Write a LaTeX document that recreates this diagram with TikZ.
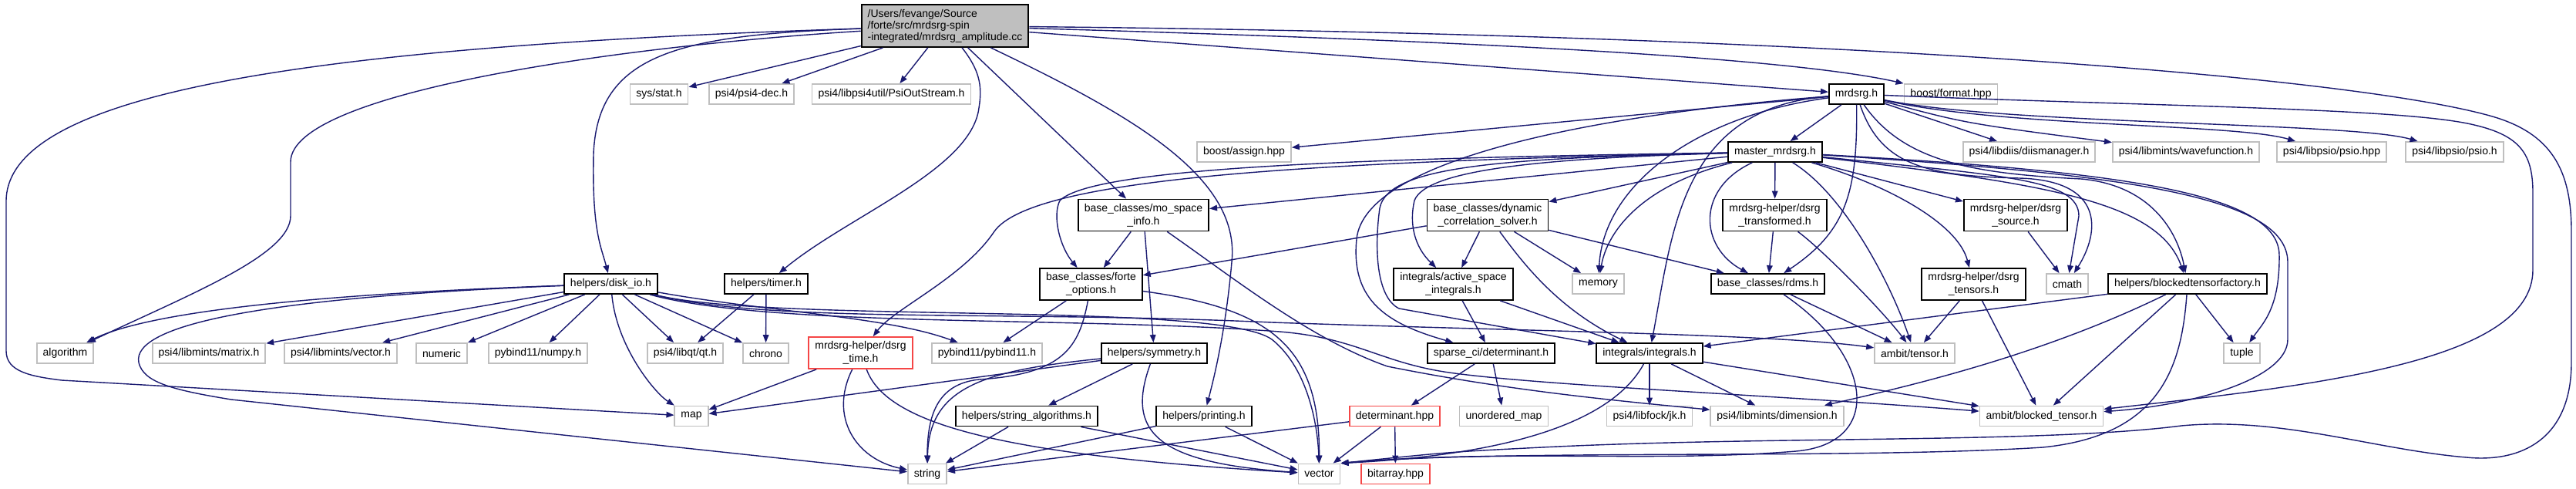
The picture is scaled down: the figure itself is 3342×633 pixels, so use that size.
\documentclass[tikz,border=0pt]{standalone}
\usepackage{fontspec}
\setmainfont{Liberation Sans}
\usetikzlibrary{arrows.meta}
\definecolor{kante}{RGB}{25,25,112}
\definecolor{grau}{RGB}{191,191,191}
\definecolor{rot}{RGB}{245,70,70}

\begin{document}
\begin{tikzpicture}[x=0.5pt, y=-0.5pt,
  datei/.style={rectangle, line width=0.9pt, fill=white, font=\fontsize{7}{8.5}\selectfont,
    inner xsep=4pt, inner ysep=1pt, minimum height=13pt, align=center},
  doku/.style={datei, draw=black},
  extern/.style={datei, draw=grau},
  rotbox/.style={datei, draw=rot},
  zwei/.style={minimum height=20.5pt},
  pfad/.style={draw=kante, line width=0.7pt, -{Triangle[length=5pt,width=3.8pt]}}]

	\path[use as bounding box, fill=white] (0,0) rectangle (3342,633);

	% Ebene 0
	\node[doku, fill=grau, align=left, minimum height=27.5pt, font=\fontsize{7}{7.5}\selectfont] (root) at (1226,33.5) {/Users/fevange/Source\\/forte/src/mrdsrg-spin\\-integrated/mrdsrg\_amplitude.cc};

	% Ebene 1
	\node[extern] (sysstat) at (855,122) {sys/stat.h};
	\node[extern] (psidec) at (975,122) {psi4/psi4-dec.h};
	\node[extern] (outstream) at (1156.5,122) {psi4/libpsi4util/PsiOutStream.h};
	\node[doku] (mrdsrg) at (2408.5,122) {mrdsrg.h};
	\node[extern] (format) at (2531,122) {boost/format.hpp};

	% Ebene 2
	\node[extern] (assign) at (1614,197) {boost/assign.hpp};
	\node[doku] (master) at (2303,197) {master\_mrdsrg.h};
	\node[extern] (diis) at (2632.5,197) {psi4/libdiis/diismanager.h};
	\node[extern] (wfn) at (2836,197) {psi4/libmints/wavefunction.h};
	\node[extern] (psiohpp) at (3025,197) {psi4/libpsio/psio.hpp};
	\node[extern] (psioh) at (3184.5,197) {psi4/libpsio/psio.h};

	% Ebene 3
	\node[doku, zwei] (mospace) at (1483.5,279) {base\_classes/mo\_space\\\_info.h};
	\node[doku, zwei] (dyncorr) at (1930,279) {base\_classes/dynamic\\\_correlation\_solver.h};
	\node[doku, zwei] (transformed) at (2302.5,279) {mrdsrg-helper/dsrg\\\_transformed.h};
	\node[doku, zwei] (source) at (2615,279) {mrdsrg-helper/dsrg\\\_source.h};

	% Ebene 4
	\node[doku] (diskio) at (792.5,368) {helpers/disk\_io.h};
	\node[doku] (timer) at (994,368) {helpers/timer.h};
	\node[doku, zwei] (options) at (1415.5,368.5) {base\_classes/forte\\\_options.h};
	\node[doku, zwei] (asints) at (1885.5,368.5) {integrals/active\_space\\\_integrals.h};
	\node[extern] (memory) at (2073.5,368) {memory};
	\node[doku] (rdms) at (2293.5,368) {base\_classes/rdms.h};
	\node[doku, zwei] (tensors) at (2560.5,368.5) {mrdsrg-helper/dsrg\\\_tensors.h};
	\node[extern] (cmath) at (2682,368) {cmath};
	\node[doku] (btf) at (2838,368) {helpers/blockedtensorfactory.h};

	% Ebene 5
	\node[extern] (algorithm) at (84.5,458) {algorithm};
	\node[extern] (matrix) at (271,458) {psi4/libmints/matrix.h};
	\node[extern] (vectorh) at (442,458) {psi4/libmints/vector.h};
	\node[extern] (numeric) at (573,458) {numeric};
	\node[extern] (numpy) at (698,458) {pybind11/numpy.h};
	\node[extern] (qt) at (889,458) {psi4/libqt/qt.h};
	\node[extern] (chrono) at (993.5,458) {chrono};
	\node[rotbox, zwei] (dsrgtime) at (1116.5,457.5) {mrdsrg-helper/dsrg\\\_time.h};
	\node[extern] (pybind) at (1280.5,458) {pybind11/pybind11.h};
	\node[doku] (symmetry) at (1497.5,458) {helpers/symmetry.h};
	\node[doku] (sparsedet) at (1934.5,458) {sparse\_ci/determinant.h};
	\node[doku] (integrals) at (2140,458) {integrals/integrals.h};
	\node[extern] (tensor) at (2484,458) {ambit/tensor.h};
	\node[extern] (tuple) at (2908.5,458) {tuple};

	% Ebene 6
	\node[extern] (map) at (897,539.5) {map};
	\node[doku] (stralg) at (1332,539.5) {helpers/string\_algorithms.h};
	\node[doku] (printing) at (1562,539.5) {helpers/printing.h};
	\node[rotbox] (dethpp) at (1809.5,539.5) {determinant.hpp};
	\node[extern] (umap) at (1951,539.5) {unordered\_map};
	\node[extern] (jk) at (2140,539.5) {psi4/libfock/jk.h};
	\node[extern] (dimension) at (2305.5,539.5) {psi4/libmints/dimension.h};
	\node[extern] (blocked) at (2648.5,539.5) {ambit/blocked\_tensor.h};

	% Ebene 7
	\node[extern] (string) at (1203,614.5) {string};
	\node[extern] (vector) at (1711.5,614.5) {vector};
	\node[rotbox] (bitarray) at (1810.5,614.5) {bitarray.hpp};

	% Kanten root
	\draw[pfad] (root) .. controls (400,60) and (10,120) .. (8,260) -- (8,455) .. controls (8,482) and (40,488) .. (80,493) -- (map);
	\draw[pfad] (root) .. controls (800,60) and (377,120) .. (377,210) -- (377,280) .. controls (377,330) and (250,380) .. (algorithm);
	\draw[pfad] (root) .. controls (880,45) and (775,70) .. (770,200) .. controls (768,300) and (780,320) .. (diskio);
	\draw[pfad] (root) -- (sysstat);
	\draw[pfad] (root) -- (psidec);
	\draw[pfad] (root) -- (outstream);
	\draw[pfad] (root) .. controls (1270,90) and (1275,110) .. (1270,140) .. controls (1260,220) and (1100,280) .. (timer);
	\draw[pfad] (root) -- (mospace);
	\draw[pfad] (root) .. controls (1470,150) and (1610,230) .. (1598,340) .. controls (1590,430) and (1575,490) .. (printing);
	\draw[pfad] (root) -- (mrdsrg);
	\draw[pfad] (root) .. controls (1800,50) and (2300,70) .. (format);
	\draw[pfad] (root) .. controls (2400,45) and (3050,100) .. (3230,150) .. controls (3310,172) and (3336,220) .. (3336,300) -- (3336,470)
		.. controls (3336,570) and (3270,600) .. (3200,593) .. controls (3080,583) and (2960,540) .. (2830,552)
		.. controls (2650,575) and (2300,565) .. (2000,580) .. controls (1880,586) .. (vector.north east);

	% Kanten mrdsrg.h
	\draw[pfad] (mrdsrg) -- (assign);
	\draw[pfad] (mrdsrg) -- (master);
	\draw[pfad] (mrdsrg) .. controls (2200,150) and (2080,240) .. (memory);
	\draw[pfad] (mrdsrg) .. controls (2050,150) and (1770,210) .. (1760,310) .. controls (1752,390) and (1800,420) .. (sparsedet);
	\draw[pfad] (mrdsrg) .. controls (2180,140) and (2170,300) .. (integrals);
	\draw[pfad] (mrdsrg) .. controls (2410,250) and (2395,300) .. (rdms);
	\draw[pfad] (mrdsrg) .. controls (2440,215) and (2500,228) .. (2620,231) .. controls (2730,234) and (2725,300) .. (cmath);
	\draw[pfad] (mrdsrg) .. controls (2470,210) and (2560,225) .. (2700,232) .. controls (2790,240) and (2825,300) .. (btf);
	\draw[pfad] (mrdsrg) -- (diis);
	\draw[pfad] (mrdsrg) .. controls (2550,160) .. (wfn);
	\draw[pfad] (mrdsrg) .. controls (2600,165) and (2900,160) .. (psiohpp);
	\draw[pfad] (mrdsrg) .. controls (2600,162) and (3050,158) .. (psioh);
	\draw[pfad] (mrdsrg) .. controls (2800,138) and (3120,140) .. (3210,162) .. controls (3270,176) and (3286,200) .. (3286,250) -- (3286,350)
		.. controls (3286,470) and (3000,500) .. (blocked);

	% Kanten master_mrdsrg.h
	\draw[pfad] (master) -- (mospace);
	\draw[pfad] (master) -- (dyncorr);
	\draw[pfad] (master) .. controls (1800,205) and (1420,215) .. (1375,260) .. controls (1365,280) and (1375,320) .. (options);
	\draw[pfad] (master) .. controls (1700,210) and (1340,230) .. (1290,300) .. controls (1250,360) and (1160,400) .. (dsrgtime);
	\draw[pfad] (master) .. controls (2000,205) and (1850,220) .. (1835,260) .. controls (1828,290) and (1835,320) .. (asints);
	\draw[pfad] (master) .. controls (1950,205) and (1800,215) .. (1790,270) .. controls (1783,320) and (1785,385) .. (1815,400) -- (integrals);
	\draw[pfad] (master) .. controls (2130,240) and (2085,300) .. (memory);
	\draw[pfad] (master) .. controls (2200,245) and (2205,320) .. (rdms);
	\draw[pfad] (master) -- (transformed);
	\draw[pfad] (master) -- (source);
	\draw[pfad] (master) .. controls (2450,240) and (2540,290) .. (tensors);
	\draw[pfad] (master) .. controls (2390,250) and (2450,360) .. (tensor);
	\draw[pfad] (master) .. controls (2600,228) and (2697,232) .. (2697,280) -- (cmath);
	\draw[pfad] (master) .. controls (2650,238) and (2800,260) .. (btf);
	\draw[pfad] (master) .. controls (2750,222) and (2955,250) .. (2957,330) .. controls (2958,400) and (2935,420) .. (tuple);
	\draw[pfad] (master) .. controls (2760,226) and (2968,255) .. (2968,340) -- (2968,440) .. controls (2968,490) and (2850,525) .. (blocked);

	% Kanten Ebene 3
	\draw[pfad] (dyncorr) -- (options);
	\draw[pfad] (dyncorr) -- (asints);
	\draw[pfad] (dyncorr) -- (memory);
	\draw[pfad] (dyncorr) .. controls (1975,340) and (2020,400) .. (integrals);
	\draw[pfad] (dyncorr) -- (rdms);
	\draw[pfad] (mospace) -- (options);
	\draw[pfad] (mospace) -- (symmetry);
	\draw[pfad] (mospace) .. controls (1600,360) and (1700,440) .. (1800,475) .. controls (1950,505) and (2080,518) .. (dimension);
	\draw[pfad] (transformed) -- (rdms);
	\draw[pfad] (transformed) .. controls (2360,320) and (2440,400) .. (tensor);
	\draw[pfad] (source) -- (cmath);

	% Kanten Ebene 4
	\draw[pfad] (diskio) .. controls (450,380) and (200,400) .. (algorithm);
	\draw[pfad] (diskio) -- (matrix);
	\draw[pfad] (diskio) -- (vectorh);
	\draw[pfad] (diskio) -- (numeric);
	\draw[pfad] (diskio) -- (numpy);
	\draw[pfad] (diskio) .. controls (800,450) and (850,510) .. (map);
	\draw[pfad] (diskio) -- (qt);
	\draw[pfad] (diskio) -- (chrono);
	\draw[pfad] (diskio) .. controls (1000,405) and (1150,410) .. (pybind);
	\draw[pfad] (diskio) .. controls (350,385) and (170,420) .. (180,470) .. controls (186,495) and (220,505) .. (300,518) -- (string);
	\draw[pfad] (diskio) .. controls (1000,420) and (1580,390) .. (1650,440) .. controls (1700,480) and (1710,560) .. (vector);
	\draw[pfad] (diskio) .. controls (1000,420) and (1300,402) .. (1650,418) .. controls (2000,430) and (2300,433) .. (tensor);
	\draw[pfad] (diskio) .. controls (1000,425) and (1400,410) .. (1660,430) .. controls (1760,438) and (1790,470) .. (1880,483)
		.. controls (2000,500) and (2300,512) .. (blocked);
	\draw[pfad] (timer) -- (qt);
	\draw[pfad] (timer) -- (chrono);
	\draw[pfad] (options) -- (pybind);
	\draw[pfad] (options) .. controls (1400,450) and (1380,485) .. (1270,492) .. controls (1215,498) and (1203,540) .. (string);
	\draw[pfad] (options) .. controls (1650,400) and (1712,450) .. (vector);
	\draw[pfad] (asints) -- (integrals);
	\draw[pfad] (asints) -- (sparsedet);
	\draw[pfad] (rdms) -- (tensor);
	\draw[pfad] (rdms) .. controls (2430,460) and (2445,575) .. (2330,585) .. controls (2150,600) and (1950,582) .. (vector.north east);
	\draw[pfad] (tensors) -- (tensor);
	\draw[pfad] (tensors) -- (blocked);
	\draw[pfad] (btf) -- (integrals);
	\draw[pfad] (btf) .. controls (2650,460) and (2480,500) .. (dimension);
	\draw[pfad] (btf) -- (blocked);
	\draw[pfad] (btf) -- (tuple);
	\draw[pfad] (btf) .. controls (2830,480) and (2800,565) .. (2650,580) .. controls (2400,596) and (1950,582) .. (vector.north east);

	% Kanten Ebene 5
	\draw[pfad] (dsrgtime) -- (map);
	\draw[pfad] (dsrgtime) .. controls (1075,540) and (1110,595) .. (string);
	\draw[pfad] (dsrgtime) .. controls (1150,550) and (1300,590) .. (vector);
	\draw[pfad] (symmetry) -- (map);
	\draw[pfad] (symmetry) .. controls (1280,480) and (1205,500) .. (string);
	\draw[pfad] (symmetry) -- (stralg);
	\draw[pfad] (symmetry) .. controls (1460,560) and (1500,600) .. (vector);
	\draw[pfad] (sparsedet) -- (dethpp);
	\draw[pfad] (sparsedet) -- (umap);
	\draw[pfad] (integrals) .. controls (2090,550) and (1950,590) .. (vector.north east);
	\draw[pfad] (integrals) -- (jk);
	\draw[pfad] (integrals) -- (dimension);
	\draw[pfad] (integrals) -- (blocked);

	% Kanten Ebene 6
	\draw[pfad] (stralg) -- (string);
	\draw[pfad] (stralg) -- (vector);
	\draw[pfad] (printing) -- (string);
	\draw[pfad] (printing) -- (vector);
	\draw[pfad] (dethpp) -- (string);
	\draw[pfad] (dethpp) -- (vector);
	\draw[pfad] (dethpp) -- (bitarray);

\end{tikzpicture}
\end{document}
